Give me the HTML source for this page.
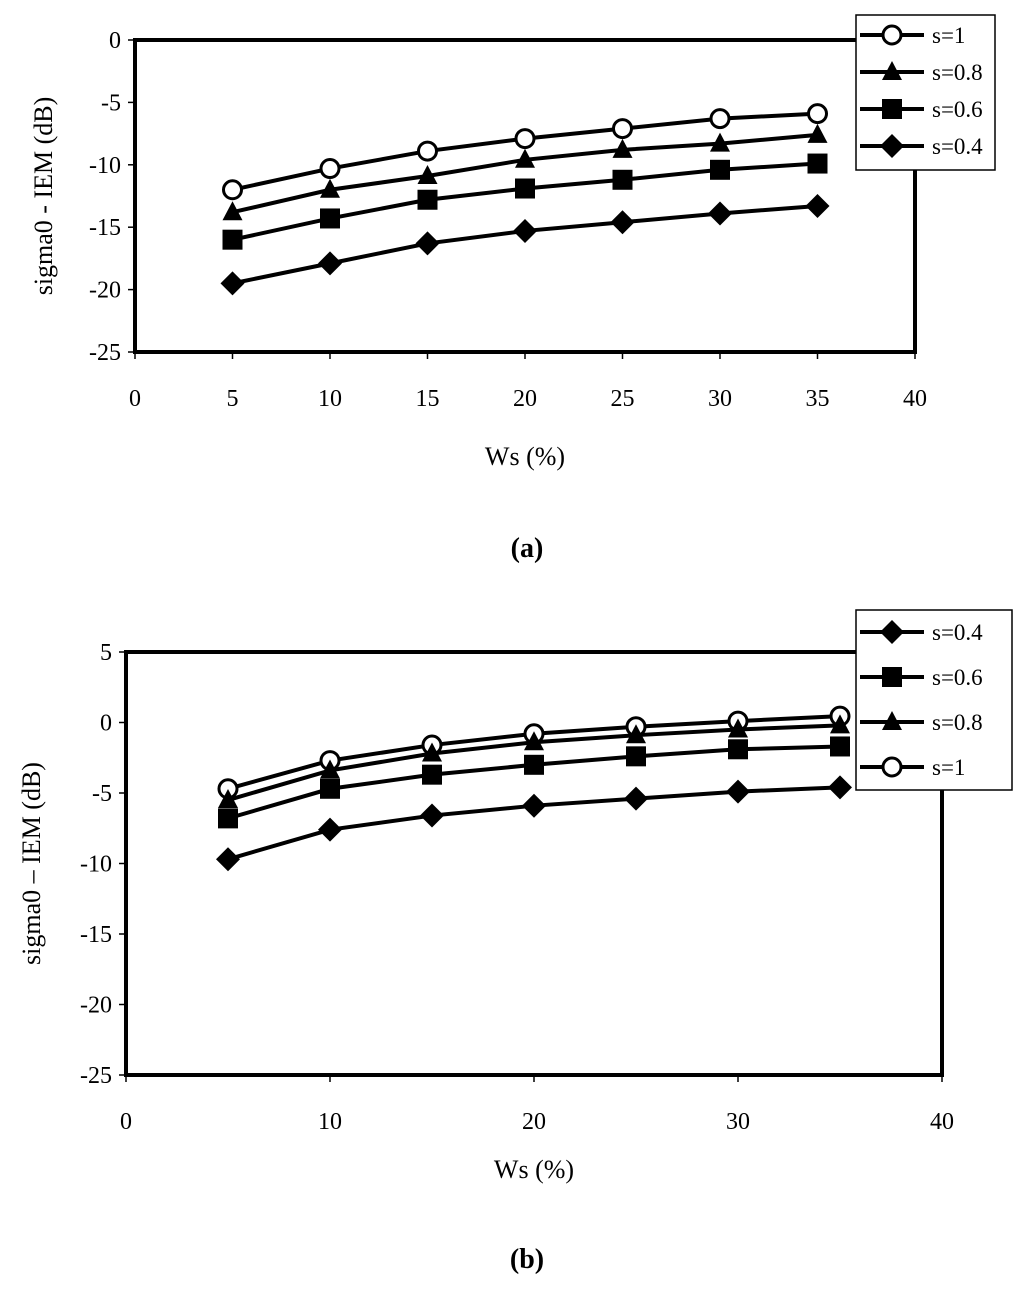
<!DOCTYPE html>
<html><head><meta charset="utf-8"><style>
body{margin:0;background:#fff}
svg text{font-family:"Liberation Serif",serif;fill:#000}
</style></head><body>
<svg id="s" width="1024" height="1291" xmlns="http://www.w3.org/2000/svg"></svg>
<script>
const xCats=[5,10,15,20,25,30,35];
const aS1=[-12.0,-10.3,-8.9,-7.9,-7.1,-6.3,-5.9];
const aS08=[-13.8,-12.0,-10.9,-9.6,-8.8,-8.3,-7.6];
const aS06=[-16.0,-14.3,-12.8,-11.9,-11.2,-10.4,-9.9];
const aS04=[-19.5,-17.9,-16.3,-15.3,-14.6,-13.9,-13.3];
const bS1=[-4.7,-2.7,-1.6,-0.8,-0.3,0.1,0.45];
const bS08=[-5.5,-3.4,-2.2,-1.4,-0.9,-0.5,-0.2];
const bS06=[-6.8,-4.7,-3.7,-3.0,-2.4,-1.9,-1.7];
const bS04=[-9.7,-7.6,-6.6,-5.9,-5.4,-4.9,-4.6];
const aYTicks=[0,-5,-10,-15,-20,-25];
const aXTicks=[0,5,10,15,20,25,30,35,40];
const bYTicks=[5,0,-5,-10,-15,-20,-25];
const bXTicks=[0,10,20,30,40];
const NS="http://www.w3.org/2000/svg";
const svg=document.getElementById('s');
function el(t,a,p){const e=document.createElementNS(NS,t);for(const k in a)e.setAttribute(k,a[k]);(p||svg).appendChild(e);return e;}
function txt(x,y,s,size,anchor,weight,name,rot){const e=el('text',{x:x,y:y,'font-size':size,'text-anchor':anchor||'middle','font-weight':weight||'normal'});if(rot)e.setAttribute('transform',rot);e.textContent=s;


return e;}
function marker(g,type,x,y){let e;
if(type==='circle')e=el('circle',{cx:x,cy:y,r:9,fill:'#fff',stroke:'#000','stroke-width':3},g);
else if(type==='tri')e=el('polygon',{points:`${x},${y-11} ${x+10},${y+8} ${x-10},${y+8}`,fill:'#000'},g);
else if(type==='sq')e=el('rect',{x:x-10,y:y-10,width:20,height:20,fill:'#000'},g);
else e=el('polygon',{points:`${x},${y-12} ${x+12},${y} ${x},${y+12} ${x-12},${y}`,fill:'#000'},g);


}
function chart(c){
 const X=v=>c.x0+(v-c.xmin)/(c.xmax-c.xmin)*(c.x1-c.x0);
 const Y=v=>c.y0+(c.ymax-v)/(c.ymax-c.ymin)*(c.y1-c.y0);
 const g=el('g',{});
 
 
 const box=el('rect',{x:c.x0,y:c.y0,width:c.x1-c.x0,height:c.y1-c.y0,fill:'none',stroke:'#000','stroke-width':4},g);
 
 
 c.yt.forEach(v=>{el('line',{x1:c.x0-7,x2:c.x0,y1:Y(v),y2:Y(v),stroke:'#000','stroke-width':1.5},g);
  txt(c.x0-14,Y(v)+8,String(v),24,'end','normal','y-tick-label');});
 c.xt.forEach(v=>{el('line',{x1:X(v),x2:X(v),y1:c.y1,y2:c.y1+7,stroke:'#000','stroke-width':1.5},g);
  txt(X(v),c.y1+54,String(v),24,'middle','normal','x-tick-label');});
 c.series.forEach(s=>{
  const pts=xCats.map((x,i)=>X(x)+','+Y(s.v[i])).join(' ');
  const l=el('polyline',{points:pts,fill:'none',stroke:'#000','stroke-width':4},g);
  
  
  xCats.forEach((x,i)=>marker(g,s.m,X(x),Y(s.v[i])));
 });
 const lg=el('rect',{x:c.lx,y:c.ly,width:c.lw,height:c.lh,fill:'#fff',stroke:'#000','stroke-width':1.5},g);
 
 
 c.legend.forEach((s,i)=>{const yy=c.ly+c.lfirst+i*c.lstep;
  el('line',{x1:c.lx+4,x2:c.lx+68,y1:yy,y2:yy,stroke:'#000','stroke-width':4},g);
  marker(g,s.m,c.lx+36,yy);
  txt(c.lx+76,yy+8,s.label,23,'start','normal','legend-entry');});
 txt((c.x0+c.x1)/2,c.xtitleY,'Ws (%)',26,'middle','normal','x-axis-title');
 txt(0,0,c.ytitle,26,'middle','normal','y-axis-title',`translate(${c.ytitleX},${(c.y0+c.y1)/2}) rotate(-90)`);
 txt(527,c.capY,c.cap,28,'middle','bold','caption');
}
const A={s1:{v:aS1,m:'circle',label:'s=1'},s08:{v:aS08,m:'tri',label:'s=0.8'},s06:{v:aS06,m:'sq',label:'s=0.6'},s04:{v:aS04,m:'dia',label:'s=0.4'}};
chart({name:'chart-a',x0:135,x1:915,y0:40,y1:352,xmin:0,xmax:40,ymin:-25,ymax:0,yt:aYTicks,xt:aXTicks,
 series:[A.s1,A.s08,A.s06,A.s04],legend:[A.s1,A.s08,A.s06,A.s04],lx:856,ly:15,lw:139,lh:155,lfirst:20,lstep:37,
 xtitleY:465,ytitle:'sigma0 - IEM (dB)',ytitleX:52,cap:'(a)',capY:557});
const B={s1:{v:bS1,m:'circle',label:'s=1'},s08:{v:bS08,m:'tri',label:'s=0.8'},s06:{v:bS06,m:'sq',label:'s=0.6'},s04:{v:bS04,m:'dia',label:'s=0.4'}};
chart({name:'chart-b',x0:126,x1:942,y0:652,y1:1075,xmin:0,xmax:40,ymin:-25,ymax:5,yt:bYTicks,xt:bXTicks,
 series:[B.s1,B.s08,B.s06,B.s04],legend:[B.s04,B.s06,B.s08,B.s1],lx:856,ly:610,lw:156,lh:180,lfirst:22,lstep:45,
 xtitleY:1178,ytitle:'sigma0 – IEM (dB)',ytitleX:40,cap:'(b)',capY:1268});
</script>
</body></html>
